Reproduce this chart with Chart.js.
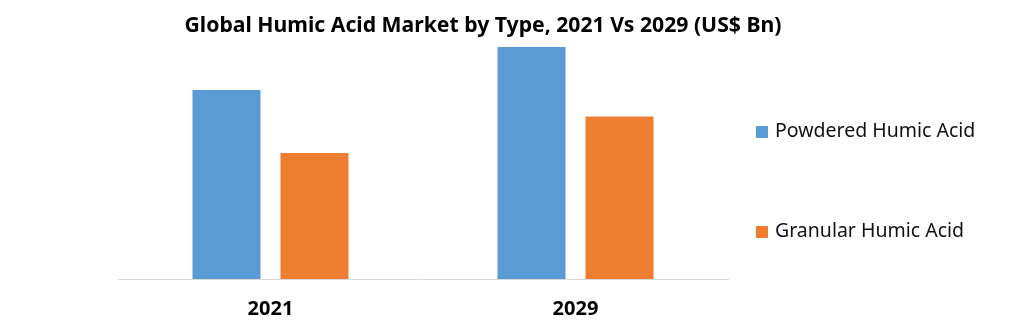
<!DOCTYPE html>
<html>
<head>
<meta charset="utf-8">
<script src="https://cdn.jsdelivr.net/npm/chart.js@4.4.1/dist/chart.umd.min.js"></script>
<style>
  body { margin: 0; background: #fff; }
  #wrap { position: relative; width: 1032px; height: 322px; }
  #title {
    position: absolute; left: 0; width: 966px; top: 9px; text-align: center;
    font: bold 21.2px "Noto Sans", sans-serif; color: #000; white-space: nowrap;
  }
  .leg {
    position: absolute; left: 756px; font: 19.5px "Noto Sans", sans-serif; color: #111;
    white-space: nowrap; line-height: 20px;
  }
  .leg span { display: inline-block; width: 12px; height: 12px; margin-right: 7px; vertical-align: -1px; }
</style>
</head>
<body>
<div id="wrap">
  <div id="title">Global Humic Acid Market by Type, 2021 Vs 2029 (US$ Bn)</div>
  <canvas id="chart" width="1032" height="322"></canvas>
  <div id="legend"></div>
</div>
<script>
const years = ["2021", "2029"];
const seriesNames = ["Powdered Humic Acid", "Granular Humic Acid"];
const powdered = [0.57, 0.70];
const granular = [0.38, 0.49];
const colors = ["#5B9BD5", "#ED7D31"];

// LEGEND
const legend = document.getElementById("legend");
const legendTops = [120, 220];
seriesNames.forEach((name, i) => {
  const div = document.createElement("div");
  div.className = "leg";
  div.style.top = legendTops[i] + "px";
  div.innerHTML = `<span style="background:${colors[i]}"></span>${name}`;
  legend.appendChild(div);
});

// CHART
new Chart(document.getElementById("chart"), {
  type: "bar",
  data: {
    labels: years,
    datasets: [
      { label: seriesNames[0], data: powdered, backgroundColor: colors[0] },
      { label: seriesNames[1], data: granular, backgroundColor: colors[1] }
    ]
  },
  options: {
    responsive: false,
    animation: false,
    layout: { padding: { left: 118, right: 304, top: 47, bottom: -9 } },
    datasets: { bar: { categoryPercentage: 0.577, barPercentage: 0.773 } },
    plugins: { legend: { display: false }, tooltip: { enabled: false } },
    scales: {
      x: {
        grid: { display: false },
        border: { display: true, color: "#d9d9d9" },
        ticks: { color: "#000", padding: 10, font: { family: "Noto Sans", size: 20, weight: "bold" } }
      },
      y: { display: false, min: 0, max: 0.70 }
    }
  }
});
</script>
</body>
</html>
